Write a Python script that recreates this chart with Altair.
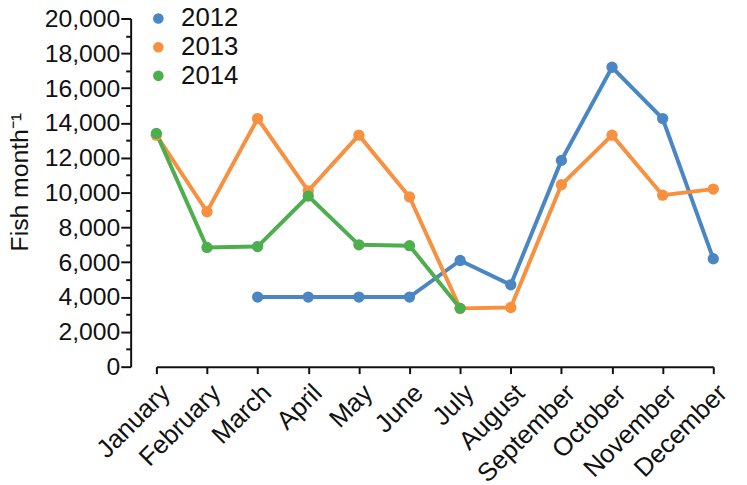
import altair as alt
import pandas as pd

months = ["January", "February", "March", "April", "May", "June", "July",
          "August", "September", "October", "November", "December"]
years = ["2012", "2013", "2014"]
colors = ["#4A86C4", "#F7903F", "#4DAE4D"]

v2012 = [None, None, 4000, 4000, 4000, 4000, 6100, 4700, 11850, 17200, 14250, 6200]
v2013 = [13300, 8900, 14250, 10100, 13300, 9750, 3350, 3400, 10450, 13300, 9850, 10200]
v2014 = [13400, 6850, 6900, 9800, 7000, 6950, 3350, None, None, None, None, None]

y_ticks = list(range(0, 20001, 1000))

rows = []
for yr, vals in zip(years, [v2012, v2013, v2014]):
    for m, v in zip(months, vals):
        if v is not None:
            rows.append({"month": m, "year": yr, "fish": v})
df = pd.DataFrame(rows)

FONT = "Liberation Sans"
INK = "#111111"

x_enc = alt.X("month:N", sort=months,
              scale=alt.Scale(domain=months, range=[26, 589], padding=0),
              axis=alt.Axis(title=None, labelAngle=-45, labelAlign="right",
                            labelBaseline="top", labelFontSize=26, labelPadding=6,
                            tickSize=7, tickWidth=2, domainWidth=2, grid=False,
                            labelColor=INK, tickColor=INK, domainColor=INK,
                            labelFont=FONT))
y_enc = alt.Y("fish:Q", scale=alt.Scale(domain=[0, 20000], nice=False, zero=True),
              axis=alt.Axis(title="Fish month⁻¹", values=y_ticks,
                            labelExpr="datum.value % 2000 === 0 ? format(datum.value, ',') : ''",
                            labelFontSize=25, labelPadding=1,
                            tickSize={"condition": {"test": "datum.value % 2000 === 0", "value": 10},
                                      "value": 5},
                            tickWidth=2, domainWidth=2, titleFontSize=25, grid=False,
                            labelOverlap=False, titleY=165,
                            titleFontWeight="normal", titlePadding=12,
                            labelColor=INK, tickColor=INK, domainColor=INK,
                            titleColor=INK, labelFont=FONT, titleFont=FONT))
color_scale = alt.Scale(domain=years, range=colors)

lines = alt.Chart(df).mark_line(strokeWidth=4).encode(
    x=x_enc, y=y_enc,
    color=alt.Color("year:N", scale=color_scale,
                    legend=alt.Legend(title=None, orient="none", legendX=15, legendY=-13,
                                      labelFontSize=26, labelFont=FONT, labelColor=INK,
                                      symbolType="circle", symbolSize=85,
                                      labelOffset=10, rowPadding=3)),
)
points = alt.Chart(df).mark_circle(size=130, opacity=1).encode(
    x=x_enc, y=y_enc,
    color=alt.Color("year:N", scale=color_scale),
)

chart = alt.layer(lines, points).properties(
    width=615, height=352,
    autosize=alt.AutoSizeParams(type="none"),
    padding={"left": 124, "top": 8, "right": 0, "bottom": 117},
).configure(font=FONT).configure_view(stroke=None)

chart.save("out.html", embed_options={"renderer": "svg", "actions": False})
